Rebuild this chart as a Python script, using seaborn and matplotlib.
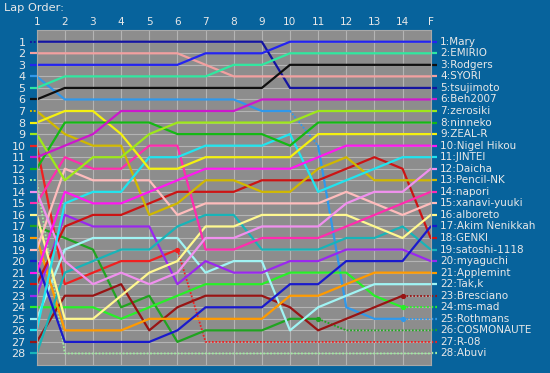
import numpy as np
import pandas as pd
import matplotlib
matplotlib.use("Agg")
import matplotlib.pyplot as plt
import seaborn as sns

# ---------------- data ----------------
lap_labels = ["1", "2", "3", "4", "5", "6", "7", "8", "9", "10", "11", "12", "13", "14", "F"]

drivers = ["Mary", "EMIRIO", "Rodgers", "SYORI", "tsujimoto", "Beh2007", "zerosiki",
           "ninneko", "ZEAL-R", "Nigel Hikou", "JINTEI", "Daicha", "Pencil-NK", "napori",
           "xanavi-yuuki", "alboreto", "Akim Nenikkah", "GENKI", "satoshi-1118", "myaguchi",
           "Applemint", "Tak,k", "Bresciano", "ms-mad", "Rothmans", "COSMONAUTE", "R-08", "Abuvi"]

mary       = [3, 3, 3, 3, 3, 3, 2, 2, 2, 1, 1, 1, 1, 1, 1]
emirio     = [5, 4, 4, 4, 4, 4, 4, 3, 3, 2, 2, 2, 2, 2, 2]
rodgers    = [6, 5, 5, 5, 5, 5, 5, 5, 5, 3, 3, 3, 3, 3, 3]
syori      = [2, 2, 2, 2, 2, 2, 3, 4, 4, 4, 4, 4, 4, 4, 4]
tsujimoto  = [1, 1, 1, 1, 1, 1, 1, 1, 1, 5, 5, 5, 5, 5, 5]
beh2007    = [11, 10, 9, 7, 7, 7, 7, 7, 6, 6, 6, 6, 6, 6, 6]
zerosiki   = [9, 13, 11, 11, 9, 8, 8, 8, 8, 8, 7, 7, 7, 7, 7]
ninneko    = [12, 8, 8, 8, 8, 9, 9, 9, 9, 10, 8, 8, 8, 8, 8]
zeal_r     = [8, 7, 7, 9, 12, 12, 11, 11, 11, 11, 9, 9, 9, 9, 9]
nigel      = [21, 14, 15, 15, 14, 13, 12, 12, 12, 12, 11, 10, 10, 10, 10]
jintei     = [26, 15, 14, 14, 11, 11, 10, 10, 10, 9, 14, 13, 12, 11, 11]
daicha     = [14, 20, 22, 21, 22, 21, 18, 18, 17, 17, 17, 15, 14, 14, 12]
pencil_nk  = [7, 9, 10, 10, 16, 15, 13, 13, 14, 14, 12, 11, 13, 13, 13]
napori     = [15, 11, 12, 12, 10, 10, 19, 19, 18, 18, 18, 17, 16, 15, 14]
xanavi     = [19, 12, 13, 13, 13, 16, 15, 15, 15, 15, 15, 14, 15, 16, 15]
alboreto   = [16, 25, 25, 23, 21, 20, 17, 17, 16, 16, 16, 16, 17, 18, 16]
akim       = [20, 27, 27, 27, 27, 26, 24, 24, 24, 22, 22, 20, 20, 20, 17]
genki      = [22, 17, 16, 16, 15, 14, 14, 14, 13, 13, 13, 12, 11, 12, 18]
satoshi    = [28, 21, 20, 19, 19, 17, 16, 16, 19, 19, 19, 18, 18, 17, 19]
myaguchi   = [23, 16, 17, 17, 17, 22, 20, 21, 21, 20, 20, 19, 19, 19, 20]
applemint  = [18, 26, 26, 26, 25, 25, 25, 25, 25, 23, 23, 22, 21, 21, 21]
tak_k      = [25, 19, 18, 18, 18, 18, 21, 20, 20, 26, 24, 23, 22, 22, 22]
bresciano  = [27, 23, 23, 22, 26, 24, 23, 23, 23, 24, 26, 25, 24, 23, 23]
ms_mad     = [24, 24, 24, 25, 24, 23, 22, 22, 22, 21, 21, 21, 23, 24, 24]
rothmans   = [4, 6, 6, 6, 6, 6, 6, 6, 7, 7, 10, 24, 25, 25, 25]
cosmonaute = [17, 18, 19, 24, 23, 27, 26, 26, 26, 25, 25, 26, 26, 26, 26]
r_08       = [10, 22, 21, 20, 20, 19, 27, 27, 27, 27, 27, 27, 27, 27, 27]
abuvi      = [13, 28, 28, 28, 28, 28, 28, 28, 28, 28, 28, 28, 28, 28, 28]

positions = [mary, emirio, rodgers, syori, tsujimoto, beh2007, zerosiki, ninneko, zeal_r,
             nigel, jintei, daicha, pencil_nk, napori, xanavi, alboreto, akim, genki,
             satoshi, myaguchi, applemint, tak_k, bresciano, ms_mad, rothmans, cosmonaute,
             r_08, abuvi]

# ---------------- styles ----------------
colors = ["#2424f0", "#30e8a0", "#101010", "#f2a0a0", "#1414a0", "#cc18cc", "#9ee81a",
          "#14b814", "#f4f010", "#ff18f0", "#20e4ee", "#f090ee", "#d0b800", "#ff2cae",
          "#ffbcbc", "#fff890", "#1a1acc", "#cc1414", "#18b4b8", "#9a28ee", "#ff9a00",
          "#a0f4f4", "#981414", "#28f028", "#3098ea", "#20a420", "#f02020", "#a0eca0"]

# segment indices (lap i -> lap i+1) drawn dotted
dotted = {"Rothmans": [9, 13], "Bresciano": [13], "ms-mad": [13],
          "COSMONAUTE": list(range(10, 14)), "R-08": list(range(5, 14)),
          "Abuvi": list(range(0, 14))}
dotted_left_tick = ["tsujimoto", "Pencil-NK", "Abuvi"]
end_marker = {"R-08": 5, "COSMONAUTE": 10, "Bresciano": 13, "ms-mad": 13, "Rothmans": 13}

BG = "#07639c"
PANEL = "#8d8d8d"
TXT = "#e8e8e8"
DOT = (0, (1, 0.9))

sns.set_theme(style="white")
plt.rcParams["font.family"] = ["DejaVu Sans"]

W, H = 550, 373
fig = plt.figure(figsize=(W / 100, H / 100), dpi=100, facecolor=BG)
ax = fig.add_axes([36.7 / W, 1 - 365 / H, (430.7 - 36.7) / W, (365 - 30.2) / H])
ax.set_facecolor(PANEL)

laps = np.arange(1, len(lap_labels) + 1)
nseg = len(laps) - 1

order = list(range(len(drivers)))[::-1]
for k in order:
    name, col, pos = drivers[k], colors[k], positions[k]
    dots = dotted.get(name, [])
    style = ["dot" if i in dots else "solid" for i in range(nseg)]
    i = 0
    while i < nseg:
        j = i
        while j + 1 < nseg and style[j + 1] == style[i]:
            j += 1
        df = pd.DataFrame({"lap": laps[i:j + 2], "pos": pos[i:j + 2]})
        ls = DOT if style[i] == "dot" else "-"
        lw = 1.3 if style[i] == "dot" else 1.6
        sns.lineplot(data=df, x="lap", y="pos", color=col, linewidth=lw, linestyle=ls,
                     ax=ax, estimator=None, sort=False, legend=False)
        i = j + 1
    # left tick
    ls0 = DOT if name in dotted_left_tick else "-"
    ax.plot([0.76, 1.0], [pos[0], pos[0]], color=col, lw=1.6 if ls0 == "-" else 1.4,
            ls=ls0, clip_on=False, solid_capstyle="butt")
    # right connector
    lsf = DOT if (nseg - 1) in dots else "-"
    ax.plot([laps[-1], laps[-1] + 0.22], [pos[-1], pos[-1]], color=col, lw=1.6, ls=lsf,
            clip_on=False, solid_capstyle="butt")
    if name in end_marker:
        m = end_marker[name]
        ax.plot([laps[m]], [pos[m]], "o", color=col, ms=2.8, clip_on=False)
    ax.text(laps[-1] + 0.33, pos[-1], f"{pos[-1]}:{name}", color=TXT, fontsize=7.5,
            va="center", ha="left", clip_on=False)

ax.set_xlim(1, len(lap_labels))
ax.set_ylim(29.0, 0.0)
ax.xaxis.tick_top()
ax.set_xticks(laps)
ax.set_xticklabels(lap_labels)
ax.set_yticks(range(1, 29))
ax.set_yticklabels([str(r) for r in range(1, 29)])
ax.tick_params(axis="x", length=0, pad=2, labelsize=7.6, colors=TXT)
ax.tick_params(axis="y", length=0, pad=8, labelsize=8, colors=TXT)
ax.set_xlabel("")
ax.set_ylabel("")
ax.grid(True, color="#b4b4b4", linewidth=0.8)
ax.set_axisbelow(True)
for s in ax.spines.values():
    s.set_color("#a8a8a8")
    s.set_linewidth(0.8)

fig.text(4 / W, 1 - 8 / H, "Lap Order:", color=TXT, fontsize=8.2, ha="left", va="center")

fig.savefig("out.png", dpi=100, facecolor=BG)
